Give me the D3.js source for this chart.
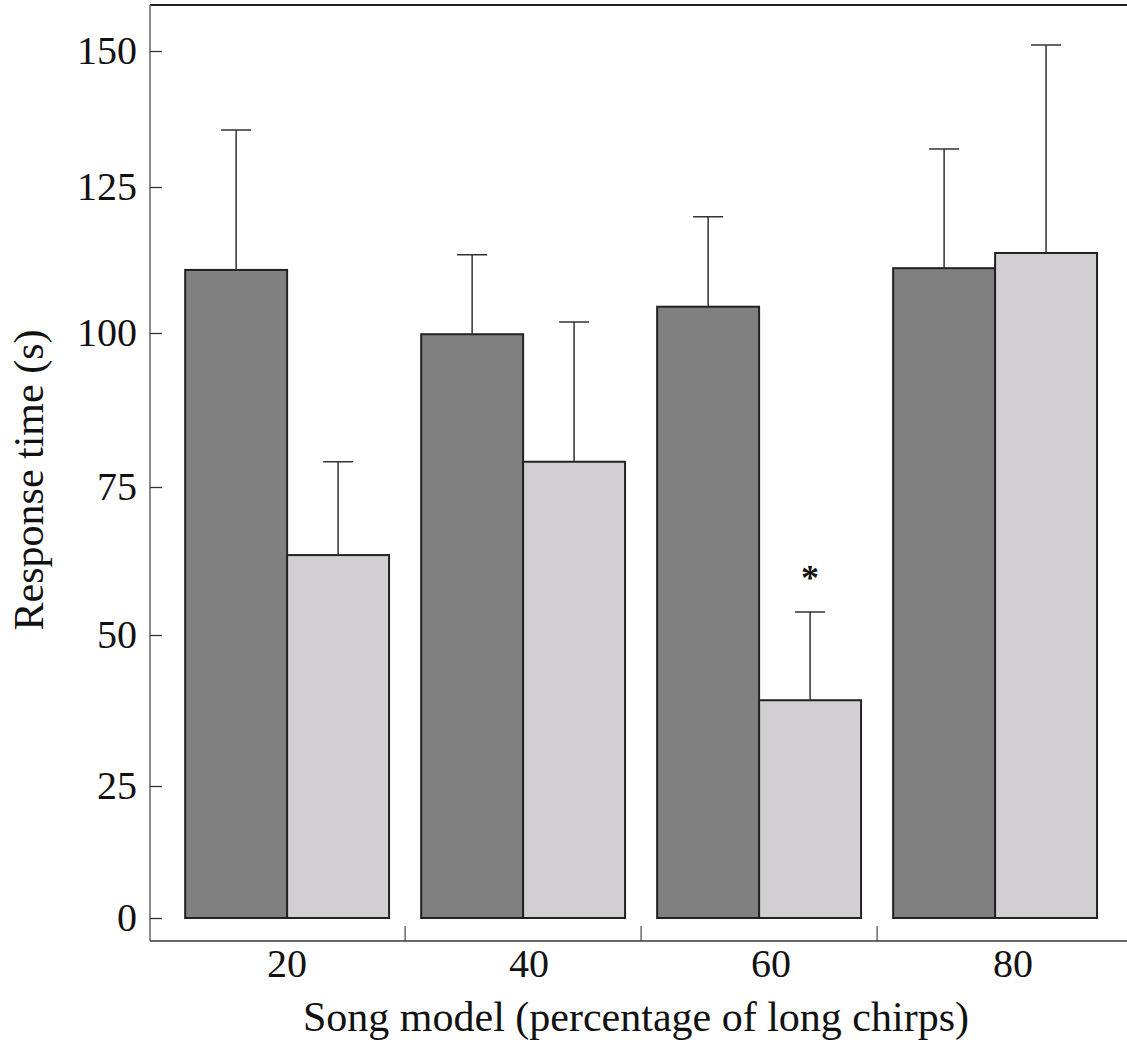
<!DOCTYPE html>
<html>
<head>
<meta charset="utf-8">
<script src="https://cdn.jsdelivr.net/npm/d3@7"></script>
<style>
  body { margin: 0; background: #fff; }
  text { font-family: "Liberation Serif", "Times New Roman", serif; fill: #111; }
</style>
</head>
<body>
<div id="chart"></div>
<script>
// data
var songModels = ["20", "40", "60", "80"];
var seriesNames = ["dark", "light"];
var darkMeans = [110.8, 99.8, 104.5, 111.1];
var darkErrTop = [135.5, 113.4, 119.9, 132.0];
var lightMeans = [63.5, 79.1, 39.2, 113.7];
var lightErrTop = [79.1, 101.9, 53.9, 151.1];
var yTicks = [0, 25, 50, 75, 100, 125, 150];
var starred = [{ group: "60", series: "light" }];

var W = 1127, H = 1042;
var left = 150, right = 1127, frameTop = 5, axisY = 941;

var svg = d3.select("#chart").append("svg")
    .attr("width", W)
    .attr("height", H);

// the scanned figure is not perfectly linear, so calibrate on each tick
var y = d3.scaleLinear()
    .domain(yTicks)
    .range([918, 786, 635, 487, 333, 187, 51]);

var x0 = d3.scaleBand()
    .domain(songModels)
    .range([left, right])
    .paddingInner(0.136)
    .paddingOuter(0.138)
    .align(0.54);

var x1 = d3.scaleBand()
    .domain(seriesNames)
    .range([0, x0.bandwidth()]);

var fill = { dark: "#808080", light: "#d1cfd2" };

var rows = songModels.map(function (g, i) {
  return {
    group: g,
    bars: [
      { series: "dark", mean: darkMeans[i], err: darkErrTop[i] },
      { series: "light", mean: lightMeans[i], err: lightErrTop[i] }
    ]
  };
});

// frame: top line, left axis, bottom axis
svg.append("line")
    .attr("x1", left).attr("x2", right)
    .attr("y1", frameTop).attr("y2", frameTop)
    .attr("stroke", "#222").attr("stroke-width", 2);
svg.append("line")
    .attr("x1", left).attr("x2", left)
    .attr("y1", frameTop).attr("y2", axisY)
    .attr("stroke", "#666").attr("stroke-width", 1.5);
svg.append("line")
    .attr("x1", left).attr("x2", right)
    .attr("y1", axisY).attr("y2", axisY)
    .attr("stroke", "#333").attr("stroke-width", 1.5);

// y axis ticks point inward
var yAxis = svg.append("g")
    .attr("transform", "translate(" + left + ",0)")
    .call(d3.axisRight(y).tickValues(yTicks).tickSize(12).tickFormat(d3.format("d")));
yAxis.select(".domain").remove();
yAxis.selectAll(".tick line").attr("stroke", "#333").attr("stroke-width", 1.3);
yAxis.selectAll(".tick text")
    .attr("x", -13)
    .attr("text-anchor", "end")
    .attr("dy", "0.32em")
    .style("font-size", "40px")
    .style("font-family", "Liberation Serif, serif")
    .attr("fill", "#111");

// small separators between groups on the x axis
var seps = songModels.slice(1).map(function (g) { return x0(g) - x0.step() * x0.paddingInner() / 2; });
svg.selectAll(".sep")
    .data(seps)
    .enter().append("line")
    .attr("class", "sep")
    .attr("x1", function (d) { return d; }).attr("x2", function (d) { return d; })
    .attr("y1", axisY).attr("y2", axisY - 15)
    .attr("stroke", "#444").attr("stroke-width", 1.2);

// x tick labels
svg.selectAll(".xlab")
    .data(songModels)
    .enter().append("text")
    .attr("class", "xlab")
    .attr("x", function (d, i) { return x0(d) + x0.bandwidth() / 2 + 6 * i; })
    .attr("y", 977)
    .attr("text-anchor", "middle")
    .style("font-size", "40px")
    .text(function (d) { return d; });

// bars
var groups = svg.selectAll(".grp")
    .data(rows)
    .enter().append("g")
    .attr("class", "grp")
    .attr("transform", function (d) { return "translate(" + x0(d.group) + ",0)"; });

groups.selectAll("rect")
    .data(function (d) { return d.bars; })
    .enter().append("rect")
    .attr("x", function (d) { return x1(d.series); })
    .attr("width", x1.bandwidth())
    .attr("y", function (d) { return y(d.mean); })
    .attr("height", function (d) { return y(0) - y(d.mean); })
    .attr("fill", function (d) { return fill[d.series]; })
    .attr("stroke", "#222")
    .attr("stroke-width", 2);

// error bars (upper only)
var capW = 30;
groups.selectAll(".err")
    .data(function (d) { return d.bars; })
    .enter().append("path")
    .attr("class", "err")
    .attr("d", function (d) {
      var cx = x1(d.series) + x1.bandwidth() / 2;
      return "M" + cx + "," + y(d.mean) + "V" + y(d.err) +
             "M" + (cx - capW / 2) + "," + y(d.err) + "H" + (cx + capW / 2);
    })
    .attr("fill", "none")
    .attr("stroke", "#333")
    .attr("stroke-width", 1.5);

// significance marker
starred.forEach(function (s) {
  var i = songModels.indexOf(s.group);
  var errTop = s.series === "light" ? lightErrTop[i] : darkErrTop[i];
  svg.append("text")
      .attr("x", x0(s.group) + x1(s.series) + x1.bandwidth() / 2)
      .attr("y", y(errTop) - 22)
      .attr("text-anchor", "middle")
      .style("font-size", "36px")
      .style("font-weight", "bold")
      .text("*");
});

// axis titles
svg.append("text")
    .attr("transform", "translate(43,480) rotate(-90)")
    .attr("text-anchor", "middle")
    .style("font-size", "42px")
    .text("Response time (s)");

svg.append("text")
    .attr("x", 636)
    .attr("y", 1031)
    .attr("text-anchor", "middle")
    .style("font-size", "42px")
    .text("Song model (percentage of long chirps)");
</script>
</body>
</html>
